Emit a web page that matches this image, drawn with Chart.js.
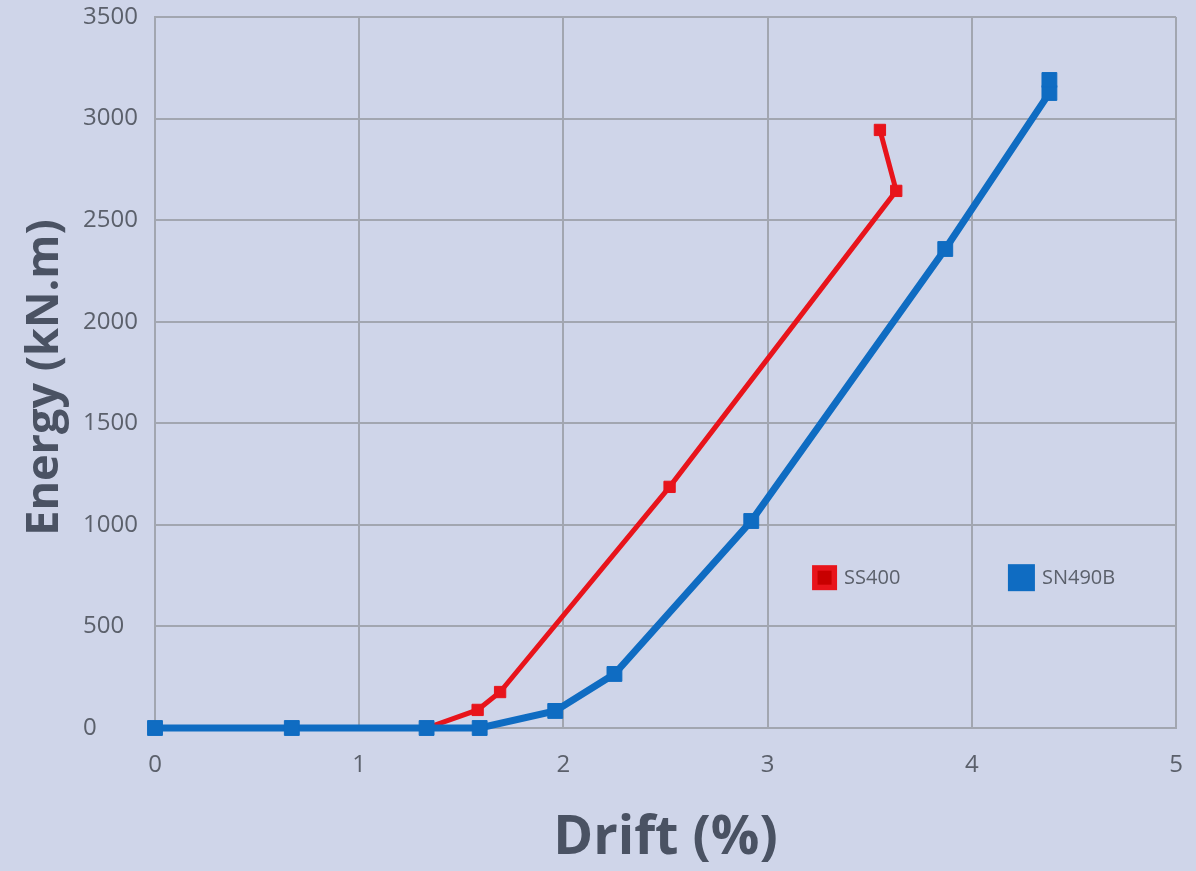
<!DOCTYPE html>
<html>
<head>
<meta charset="utf-8">
<script src="https://cdn.jsdelivr.net/npm/chart.js@4.4.1/dist/chart.umd.min.js"></script>
<style>
  html, body { margin: 0; padding: 0; background: #cfd5e9; }
  #wrap { width: 1196px; height: 871px; }
</style>
</head>
<body>
<div id="wrap"><canvas id="c" width="1196" height="871"></canvas></div>
<script>
// Drift (%) and cumulative energy (kN.m) for each steel grade
const ss400Drift   = [0, 0.67, 1.33, 1.58, 1.69, 2.52, 3.63, 3.55];
const ss400Energy  = [0, 0, 0, 89, 177, 1187, 2644, 2944];
const sn490bDrift  = [0, 0.67, 1.33, 1.59, 1.96, 2.25, 2.92, 3.87, 4.38, 4.38];
const sn490bEnergy = [0, 0, 0, 0, 84, 266, 1019, 2358, 3126, 3190];

const seriesNames = ['SS400', 'SN490B'];
const xTicks = [0, 1, 2, 3, 4, 5];
const yTicks = [0, 500, 1000, 1500, 2000, 2500, 3000, 3500];
const xTitle = 'Drift (%)';
const yTitle = 'Energy (kN.m)';

const toPoints = (xs, ys) => xs.map((x, i) => ({ x: x, y: ys[i] }));

const gridColor = '#a2a6b0';
const textColor = '#5b606b';
const titleColor = '#4a5263';

// Vertical axis title, drawn left of the left-aligned tick labels
const yTitlePlugin = {
  id: 'yTitlePlugin',
  afterDraw(chart) {
    const ctx = chart.ctx;
    const area = chart.chartArea;
    ctx.save();
    ctx.translate(45, (area.top + area.bottom) / 2 + 5);
    ctx.rotate(-Math.PI / 2);
    ctx.fillStyle = titleColor;
    ctx.font = 'bold 45px "Open Sans", sans-serif';
    ctx.textAlign = 'center';
    ctx.textBaseline = 'middle';
    ctx.fillText(yTitle, 0, 0);
    ctx.restore();
  }
};

// Legend drawn inside the plot area, as two separate entries
const innerLegend = {
  id: 'innerLegend',
  afterDatasetsDraw(chart) {
    const ctx = chart.ctx;
    const xs = chart.scales.x, ys = chart.scales.y;
    const spots = [{ x: 3.279, y: 740 }, { x: 4.243, y: 740 }];
    ctx.save();
    chart.data.datasets.forEach((ds, i) => {
      const px = xs.getPixelForValue(spots[i].x);
      const py = ys.getPixelForValue(spots[i].y);
      const s = i === 0 ? 25 : 27;
      ctx.fillStyle = ds.borderColor;
      ctx.fillRect(px - s / 2, py - s / 2, s, s);
      if (i === 0) {
        ctx.fillStyle = '#c80000';
        ctx.fillRect(px - 7, py - 7, 14, 14);
      }
      ctx.fillStyle = textColor;
      ctx.font = '20px "Open Sans", sans-serif';
      ctx.textAlign = 'left';
      ctx.textBaseline = 'middle';
      ctx.fillText(ds.label, px + s / 2 + 7, py + 1);
    });
    ctx.restore();
  }
};

new Chart(document.getElementById('c'), {
  type: 'scatter',
  data: {
    datasets: [
      {
        label: seriesNames[0],
        data: toPoints(ss400Drift, ss400Energy),
        showLine: true,
        clip: false,
        borderColor: '#e8141b',
        backgroundColor: '#e8141b',
        borderWidth: 5,
        pointStyle: 'rect',
        pointRadius: 8,
        pointBorderWidth: 1,
        pointHoverRadius: 8,
        tension: 0,
        order: 2
      },
      {
        label: seriesNames[1],
        data: toPoints(sn490bDrift, sn490bEnergy),
        showLine: true,
        clip: false,
        borderColor: '#0f6cc2',
        backgroundColor: '#0f6cc2',
        borderWidth: 7,
        pointStyle: 'rect',
        pointRadius: 10.5,
        pointBorderWidth: 1,
        pointHoverRadius: 10.5,
        tension: 0,
        order: 1
      }
    ]
  },
  options: {
    responsive: false,
    animation: false,
    layout: { padding: { top: 17, right: 20, left: 83, bottom: 0 } },
    plugins: {
      legend: { display: false },
      tooltip: { enabled: false }
    },
    scales: {
      x: {
        type: 'linear',
        min: xTicks[0],
        max: xTicks[xTicks.length - 1],
        afterBuildTicks: (axis) => { axis.ticks = xTicks.map(v => ({ value: v })); },
        afterFit: (axis) => {
          axis.height = 143;
          axis.paddingLeft = 0;
          axis.paddingRight = 0;
        },
        grid: { color: gridColor, lineWidth: 2, drawTicks: false },
        border: { color: gridColor, width: 2 },
        ticks: {
          color: textColor,
          font: { family: 'Open Sans', size: 24 },
          padding: 23,
          callback: (v) => String(v)
        },
        title: {
          display: true,
          text: xTitle,
          color: titleColor,
          font: { family: 'Open Sans', size: 54, weight: 'bold' },
          padding: { top: 4, bottom: 0 }
        }
      },
      y: {
        type: 'linear',
        min: yTicks[0],
        max: yTicks[yTicks.length - 1],
        afterBuildTicks: (axis) => { axis.ticks = yTicks.map(v => ({ value: v })); },
        afterFit: (axis) => {
          axis.width = 72;
          axis.paddingTop = 0;
          axis.paddingBottom = 0;
        },
        grid: { color: gridColor, lineWidth: 2, drawTicks: false },
        border: { color: gridColor, width: 2 },
        ticks: {
          color: textColor,
          font: { family: 'Open Sans', size: 24 },
          padding: 0,
          crossAlign: 'far',
          callback: (v) => String(v)
        }
      }
    }
  },
  plugins: [innerLegend, yTitlePlugin]
});
</script>
</body>
</html>
